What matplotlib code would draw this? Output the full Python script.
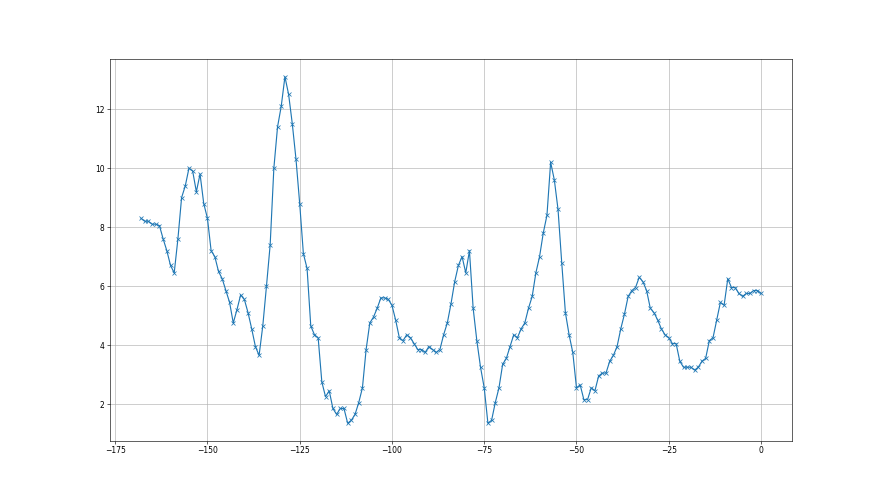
import numpy as np
import matplotlib as mpl
mpl.use('Agg')
import matplotlib.pyplot as plt

# x positions: one sample per unit, oldest first
steps = list(range(-168, 1))

values = [
    8.3, 8.2, 8.2, 8.1, 8.1, 8.05, 7.6, 7.2, 6.7, 6.45,      # -168 .. -159
    7.6, 9.0, 9.4, 10.0, 9.9, 9.2, 9.8, 8.8, 8.3, 7.2,       # -158 .. -149
    7.0, 6.5, 6.25, 5.85, 5.45, 4.75, 5.2, 5.7, 5.55, 5.1,   # -148 .. -139
    4.55, 3.95, 3.65, 4.65, 6.0, 7.4, 10.0, 11.4, 12.1, 13.1,  # -138 .. -129
    12.5, 11.5, 10.3, 8.8, 7.1, 6.6, 4.65, 4.35, 4.25, 2.75,   # -128 .. -119
    2.25, 2.45, 1.85, 1.65, 1.85, 1.85, 1.35, 1.45, 1.65, 2.05,  # -118 .. -109
    2.55, 3.85, 4.75, 4.95, 5.25, 5.6, 5.6, 5.55, 5.35, 4.85,  # -108 .. -99
    4.25, 4.15, 4.35, 4.25, 4.05, 3.85, 3.85, 3.75, 3.95, 3.85,  # -98 .. -89
    3.75, 3.85, 4.35, 4.75, 5.4, 6.15, 6.7, 7.0, 6.45, 7.2,    # -88 .. -79
    5.25, 4.15, 3.25, 2.55, 1.35, 1.45, 2.05, 2.55, 3.35, 3.55,  # -78 .. -69
    3.95, 4.35, 4.25, 4.55, 4.75, 5.25, 5.65, 6.45, 7.0, 7.8,  # -68 .. -59
    8.4, 10.2, 9.6, 8.6, 6.8, 5.1, 4.35, 3.75, 2.55, 2.65,     # -58 .. -49
    2.15, 2.15, 2.55, 2.45, 2.95, 3.05, 3.05, 3.45, 3.65, 3.95,  # -48 .. -39
    4.55, 5.05, 5.65, 5.85, 5.95, 6.3, 6.15, 5.85, 5.25, 5.1,  # -38 .. -29
    4.85, 4.55, 4.35, 4.25, 4.05, 4.05, 3.45, 3.25, 3.25, 3.25,  # -28 .. -19
    3.15, 3.25, 3.45, 3.55, 4.15, 4.25, 4.85, 5.45, 5.35, 6.25,  # -18 .. -9
    5.95, 5.95, 5.75, 5.65, 5.75, 5.75, 5.85, 5.85, 5.75,      # -8 .. 0
]

fig, ax = plt.subplots(figsize=(16, 9), dpi=55)
ax.plot(steps, values, marker='x')
ax.grid(True)

plt.savefig('out.png', dpi=55)
